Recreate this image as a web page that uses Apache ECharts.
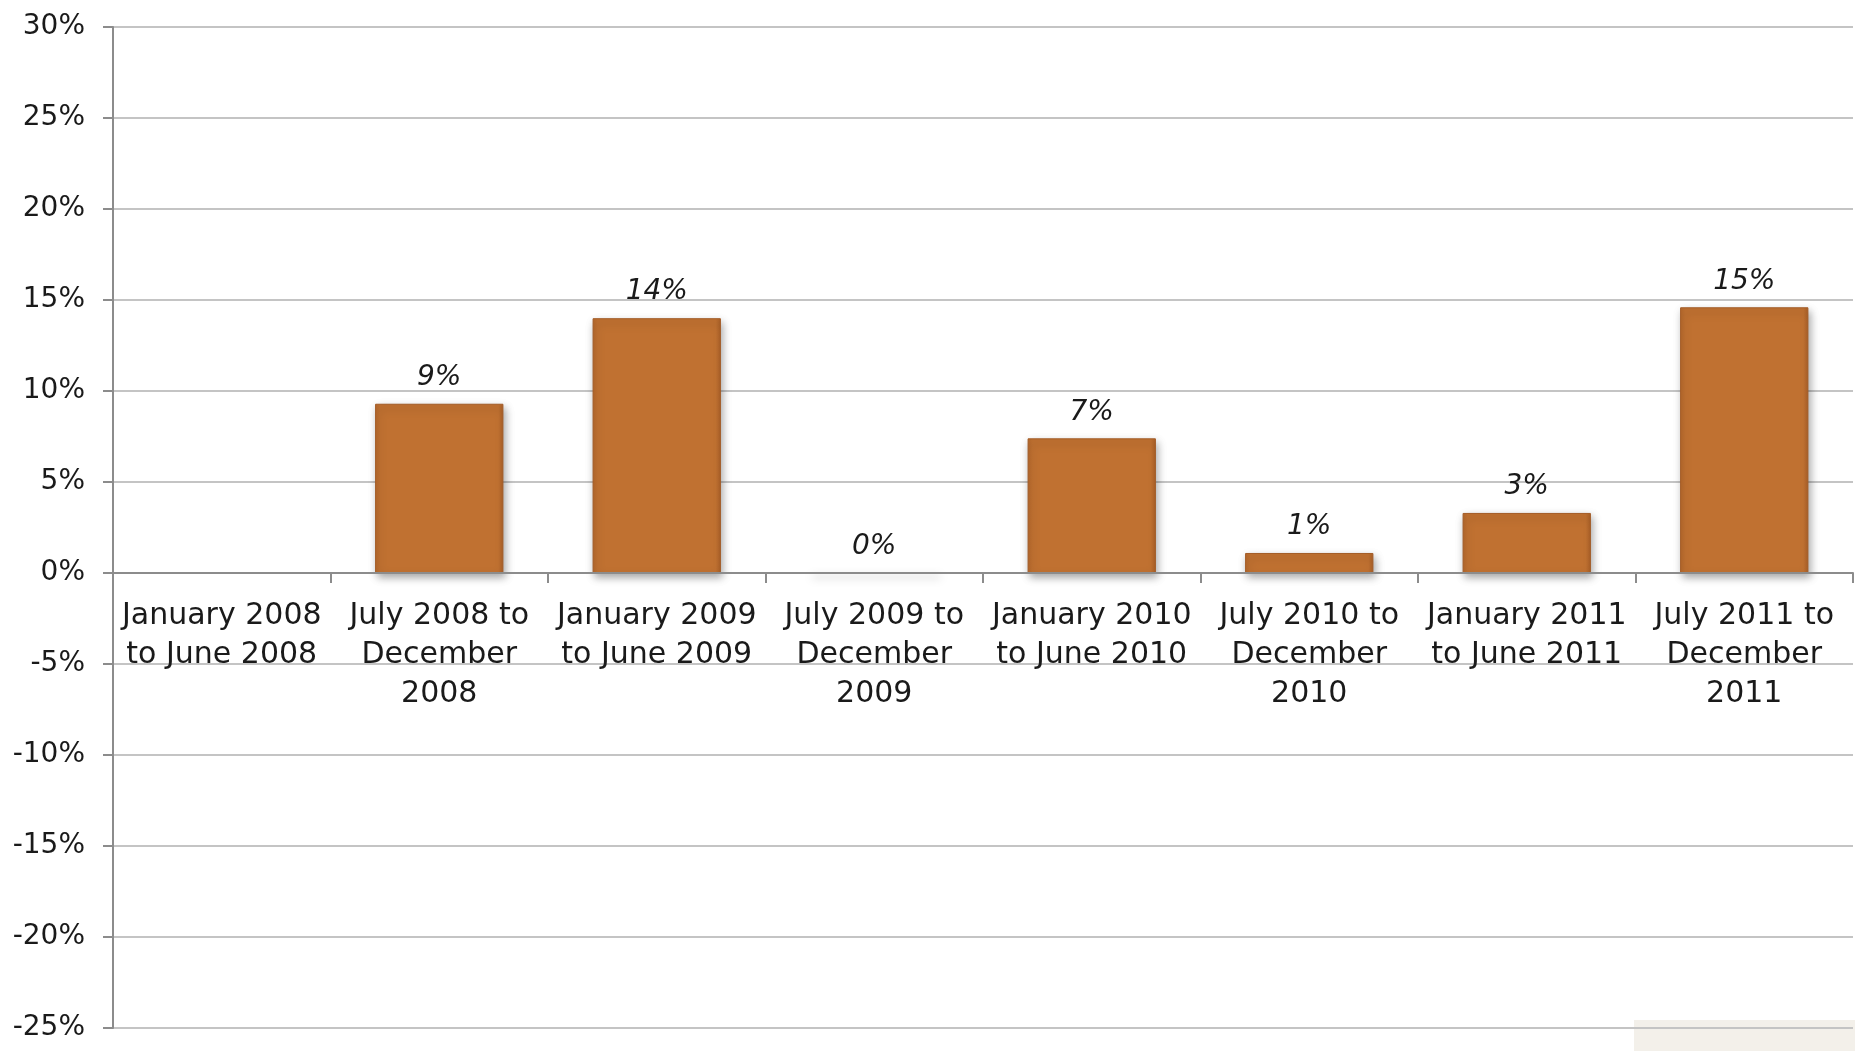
<!DOCTYPE html>
<html>
<head>
<meta charset="utf-8">
<script src="https://cdn.jsdelivr.net/npm/echarts@6/dist/echarts.min.js"></script>
<style>
  html, body { margin: 0; padding: 0; background: #fff; }
  #chart { width: 1855px; height: 1051px; }
</style>
</head>
<body>
<div id="chart"></div>
<script>
// Half-year periods on the category axis
const categories = [
  'January 2008\nto June 2008',
  'July 2008 to\nDecember\n2008',
  'January 2009\nto June 2009',
  'July 2009 to\nDecember\n2009',
  'January 2010\nto June 2010',
  'July 2010 to\nDecember\n2010',
  'January 2011\nto June 2011',
  'July 2011 to\nDecember\n2011'
];

// Change per period, in percent (first period has no value)
const changes = [null, 9.3, 14.0, 0, 7.4, 1.1, 3.3, 14.6];

// Value axis range and step, in percent
const axisMin = -25;
const axisMax = 30;
const axisStep = 5;

const FONT = '"DejaVu Sans", sans-serif';

const GRID_TOP = 27;
const GRID_BOTTOM = 23;
const CHART_H = 1051;

// Pixel distance from the bottom of the plot up to the zero line,
// so the category axis (line, ticks and labels) sits on 0%.
const plotH = CHART_H - GRID_TOP - GRID_BOTTOM;
const zeroOffset = plotH * (0 - axisMin) / (axisMax - axisMin);

const chart = echarts.init(document.getElementById('chart'), null, { renderer: 'canvas' });

chart.setOption({
  animation: false,
  backgroundColor: '#ffffff',
  grid: {
    left: 113, right: 2, top: GRID_TOP, bottom: GRID_BOTTOM,
    containLabel: false, outerBoundsMode: 'none'
  },
  xAxis: {
    type: 'category',
    data: categories,
    position: 'bottom',
    offset: -zeroOffset,
    axisLine: { onZero: false, lineStyle: { color: '#8c8c8c', width: 2 } },
    axisTick: { show: true, length: 10, alignWithLabel: false, lineStyle: { color: '#8c8c8c', width: 2 } },
    axisLabel: {
      interval: 0,
      margin: 24,
      color: '#1a1a1a',
      fontFamily: FONT,
      fontSize: 30,
      lineHeight: 39,
      align: 'center',
      hideOverlap: false
    },
    splitLine: { show: false },
    z: 5
  },
  yAxis: {
    type: 'value',
    min: axisMin,
    max: axisMax,
    interval: axisStep,
    axisLine: { show: true, lineStyle: { color: '#8c8c8c', width: 2 } },
    axisTick: { show: true, length: 10, lineStyle: { color: '#8c8c8c', width: 2 } },
    axisLabel: {
      margin: 28,
      color: '#1a1a1a',
      fontFamily: FONT,
      fontSize: 28,
      formatter: v => v + '%'
    },
    splitLine: { show: true, lineStyle: { color: '#c4c4c4', width: 2 } }
  },
  series: [{
    type: 'bar',
    data: changes,
    barWidth: '59%',
    itemStyle: {
      color: new echarts.graphic.LinearGradient(0, 0, 1, 0, [
        { offset: 0, color: '#b3672b' },
        { offset: 0.04, color: '#c07131' },
        { offset: 0.96, color: '#c07131' },
        { offset: 1, color: '#a95f27' }
      ]),
      borderColor: '#a35c27',
      borderWidth: 1,
      shadowColor: 'rgba(0,0,0,0.35)',
      shadowBlur: 8,
      shadowOffsetX: 2,
      shadowOffsetY: 4
    },
    label: {
      show: true,
      position: 'top',
      distance: 12,
      color: '#1a1a1a',
      fontFamily: FONT,
      fontStyle: 'italic',
      fontSize: 28,
      formatter: p => (p.value == null ? '' : Math.round(p.value) + '%')
    }
  }],
  graphic: [{
    type: 'rect',
    left: 1634,
    top: 1020,
    shape: { width: 221, height: 31 },
    style: { fill: '#f3f0ea' },
    z: -1
  }]
});
</script>
</body>
</html>
